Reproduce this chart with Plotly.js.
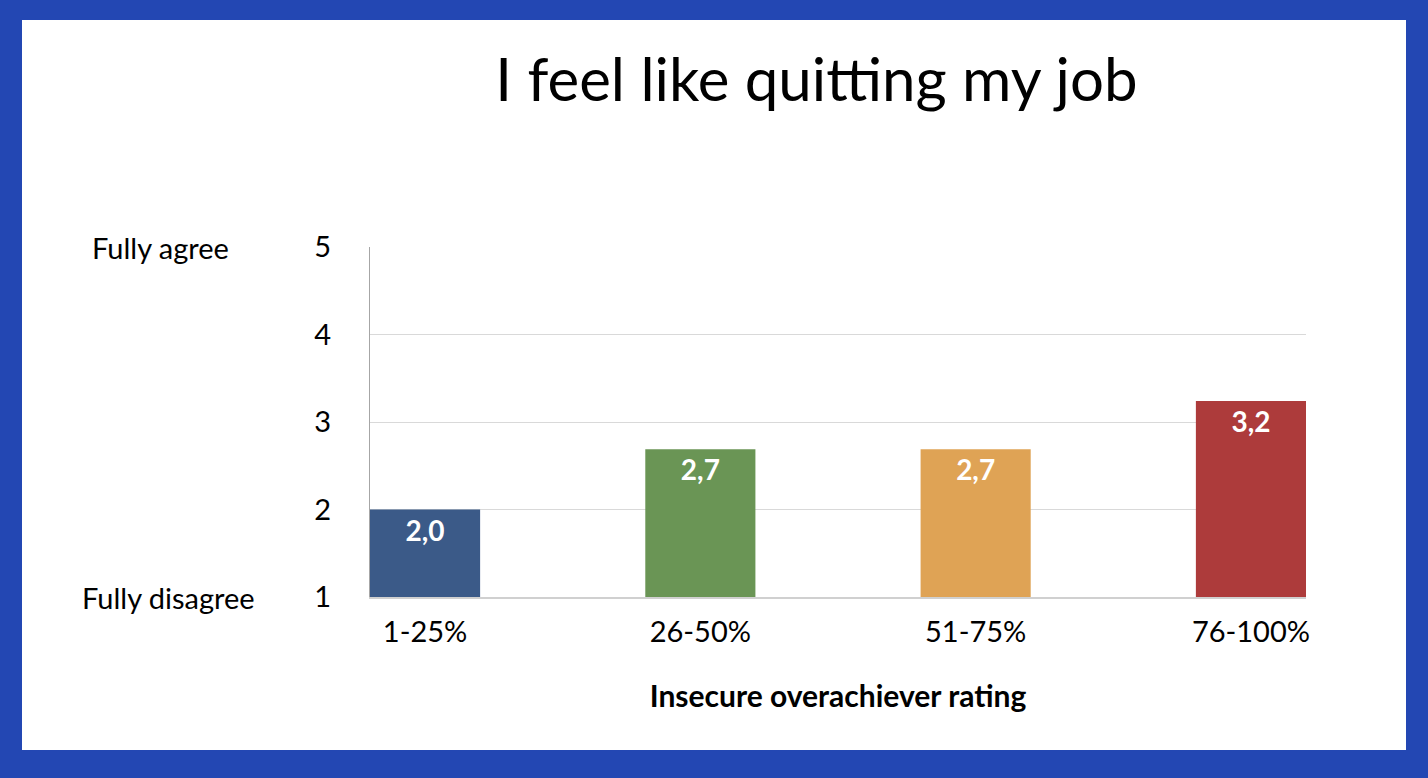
<!DOCTYPE html>
<html>
<head>
<meta charset="utf-8">
<script src="https://cdn.plot.ly/plotly-3.0.1.min.js"></script>
<style>
html, body { margin: 0; padding: 0; background: #2347B3; width: 1428px; height: 778px; overflow: hidden; }
#chart { position: absolute; left: 22px; top: 20px; width: 1384px; height: 730px; background: #fff; }
</style>
</head>
<body>
<div id="chart"></div>
<script>
const categories = ["1-25%", "26-50%", "51-75%", "76-100%"];
const values = [2.0, 2.69, 2.69, 3.24];
const barColors = ["#3B5A88", "#6A9555", "#DFA355", "#AD3B3B"];
const yTickVals = [1, 2, 3, 4, 5];
const scaleLabels = [{ text: "Fully agree", y: 5, x: -0.299 }, { text: "Fully disagree", y: 1, x: -0.31 }];
const titleText = "I feel like quitting my job";
const xTitleText = "Insecure overachiever rating";

const FONT = "Lato, 'Open Sans', sans-serif";

const trace = {
  type: "bar",
  x: categories,
  y: values,
  width: 0.4,
  marker: { color: barColors, line: { width: 0 } },
  texttemplate: "%{y:.1f}",
  textposition: "inside",
  insidetextanchor: "end",
  textangle: 0,
  textfont: { family: FONT, size: 28, color: "#ffffff", weight: "bold" },
  cliponaxis: true,
  hoverinfo: "skip"
};

const layout = {
  width: 1384,
  height: 730,
  separators: ",.",
  paper_bgcolor: "#ffffff",
  plot_bgcolor: "#ffffff",
  margin: { l: 348, r: 100, t: 227, b: 153 },
  showlegend: false,
  font: { family: FONT, color: "#000000" },
  title: {
    text: titleText,
    font: { family: FONT, size: 60, color: "#000000" },
    xref: "container", x: 0.574, xanchor: "center",
    yref: "container", y: 0.918, yanchor: "middle"
  },
  xaxis: {
    type: "category",
    range: [-0.2, 3.2],
    showgrid: false,
    showline: true, linecolor: "#d0d0d0", linewidth: 1.5,
    ticks: "",
    ticklabelstandoff: 9,
    tickfont: { family: FONT, size: 29, color: "#000000" },
    title: { text: xTitleText, font: { family: FONT, size: 30, color: "#000000", weight: "bold" }, standoff: 38 },
    fixedrange: true
  },
  yaxis: {
    range: [1, 5],
    tickvals: yTickVals,
    showgrid: true, gridcolor: "#d9d9d9", gridwidth: 1,
    showline: true, linecolor: "#a6a6a6", linewidth: 1,
    zeroline: false,
    ticks: "",
    ticklabelstandoff: 32,
    tickfont: { family: FONT, size: 29, color: "#000000" },
    fixedrange: true
  },
  annotations: scaleLabels.map(s => ({
    text: s.text, xref: "paper", x: s.x, xanchor: "left",
    yref: "y", y: s.y, yanchor: "middle",
    showarrow: false,
    font: { family: FONT, size: 29, color: "#000000" }
  }))
};

Plotly.newPlot("chart", [trace], layout, { displayModeBar: false, staticPlot: true });
</script>
</body>
</html>
